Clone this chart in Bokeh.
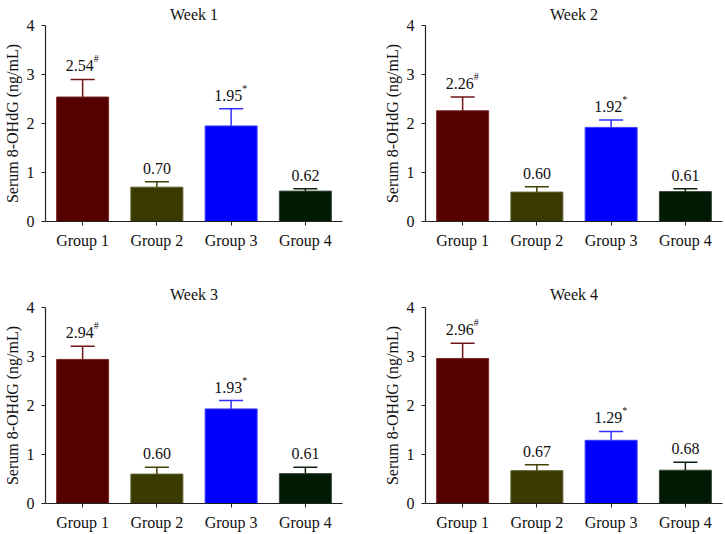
from bokeh.plotting import figure
from bokeh.layouts import column, row
from bokeh.models import ColumnDataSource, FixedTicker, Range1d
from bokeh.core.properties import value
from bokeh.embed import file_html
from bokeh.resources import INLINE

# ---- data ----
groups = ["Group 1", "Group 2", "Group 3", "Group 4"]
weeks = ["Week 1", "Week 2", "Week 3", "Week 4"]

means_w1 = [2.54, 0.70, 1.95, 0.62]
upper_w1 = [2.90, 0.81, 2.30, 0.67]
marks_w1 = ["#", "", "*", ""]

means_w2 = [2.26, 0.60, 1.92, 0.61]
upper_w2 = [2.54, 0.71, 2.07, 0.67]
marks_w2 = ["#", "", "*", ""]

means_w3 = [2.94, 0.60, 1.93, 0.61]
upper_w3 = [3.21, 0.74, 2.10, 0.74]
marks_w3 = ["#", "", "*", ""]

means_w4 = [2.96, 0.67, 1.29, 0.68]
upper_w4 = [3.27, 0.79, 1.47, 0.84]
marks_w4 = ["#", "", "*", ""]

y_ticks = [0, 1, 2, 3, 4]
y_label = "Serum 8-OHdG (ng/mL)"

fill_colors = ["#560000", "#3a3a00", "#0000ff", "#001a04"]
edge_colors = ["#7a2a2a", "#5e5e30", "#3c3cff", "#3a4a3a"]
err_colors = ["#701414", "#424208", "#3030ff", "#0e200e"]

FONT = "Liberation Serif"
FS = "16px"


def make_panel(title, means, upper, marks, width, height,
               border_top, border_bottom, border_right, title_standoff):
    xs = list(range(1, len(groups) + 1))
    p = figure(width=width, height=height, output_backend="svg",
               toolbar_location=None, title=title,
               x_range=Range1d(0.5, len(groups) + 0.5),
               y_range=Range1d(0, 4),
               min_border_left=45, min_border_right=border_right,
               min_border_top=border_top, min_border_bottom=border_bottom)
    p.title.align = "center"
    p.title.text_font = FONT
    p.title.text_font_size = FS
    p.title.text_font_style = "normal"
    p.title.text_color = "#111111"
    p.title.standoff = title_standoff
    p.outline_line_color = None
    p.xgrid.visible = False
    p.ygrid.visible = False
    p.background_fill_color = "white"
    p.border_fill_color = "white"

    src = ColumnDataSource(dict(
        x=xs, top=means, up=upper,
        cl=[x - 0.162 for x in xs], cr=[x + 0.162 for x in xs],
        fill=fill_colors, edge=edge_colors, err=err_colors,
        lab=["%.2f" % m for m in means],
        mark=marks,
        lx=[-3 if m else 0 for m in marks],
    ))
    p.vbar(x="x", top="top", bottom=0, width=0.7, source=src,
           fill_color="fill", line_color="edge", line_width=1)
    p.segment(x0="x", y0="top", x1="x", y1="up", source=src,
              line_color="err", line_width=1.5)
    p.segment(x0="cl", y0="up", x1="cr", y1="up", source=src,
              line_color="err", line_width=1.5)
    p.text(x="x", y="up", text="lab", source=src, x_offset="lx", y_offset=-8,
           text_align="center", text_baseline="bottom",
           text_font=value(FONT), text_font_size=FS, text_color="#111111")
    p.text(x="x", y="up", text="mark", source=src, x_offset=11, y_offset=-15,
           text_align="left", text_baseline="bottom",
           text_font=value(FONT), text_font_size="10px", text_color="#111111")

    p.xaxis.ticker = FixedTicker(ticks=xs)
    p.xaxis.major_label_overrides = {x: g for x, g in zip(xs, groups)}
    p.yaxis.ticker = FixedTicker(ticks=y_ticks)
    p.yaxis.axis_label = y_label
    for ax in (p.xaxis[0], p.yaxis[0]):
        ax.axis_line_color = "#222222"
        ax.axis_line_width = 1.2
        ax.major_tick_line_color = "#222222"
        ax.major_tick_in = 0
        ax.major_tick_out = 4
        ax.minor_tick_line_color = None
        ax.major_label_text_font = FONT
        ax.major_label_text_font_size = FS
        ax.major_label_text_color = "#111111"
        ax.major_label_standoff = 6
        ax.axis_label_text_font = FONT
        ax.axis_label_text_font_size = FS
        ax.axis_label_text_font_style = "normal"
        ax.axis_label_text_color = "#111111"
        ax.axis_label_standoff = 3
    p.yaxis.major_label_standoff = 7
    p.yaxis.major_label_orientation = "horizontal"
    return p


p1 = make_panel(weeks[0], means_w1, upper_w1, marks_w1, 380, 278, 23, 57, 38, 6)
p2 = make_panel(weeks[1], means_w2, upper_w2, marks_w2, 344, 278, 23, 57, 2, 6)
p3 = make_panel(weeks[2], means_w3, upper_w3, marks_w3, 380, 255, 29, 28, 38, 10)
p4 = make_panel(weeks[3], means_w4, upper_w4, marks_w4, 344, 255, 29, 28, 2, 10)

layout = column(row(p1, p2), row(p3, p4))
open("out.html", "w").write(file_html(layout, INLINE))
